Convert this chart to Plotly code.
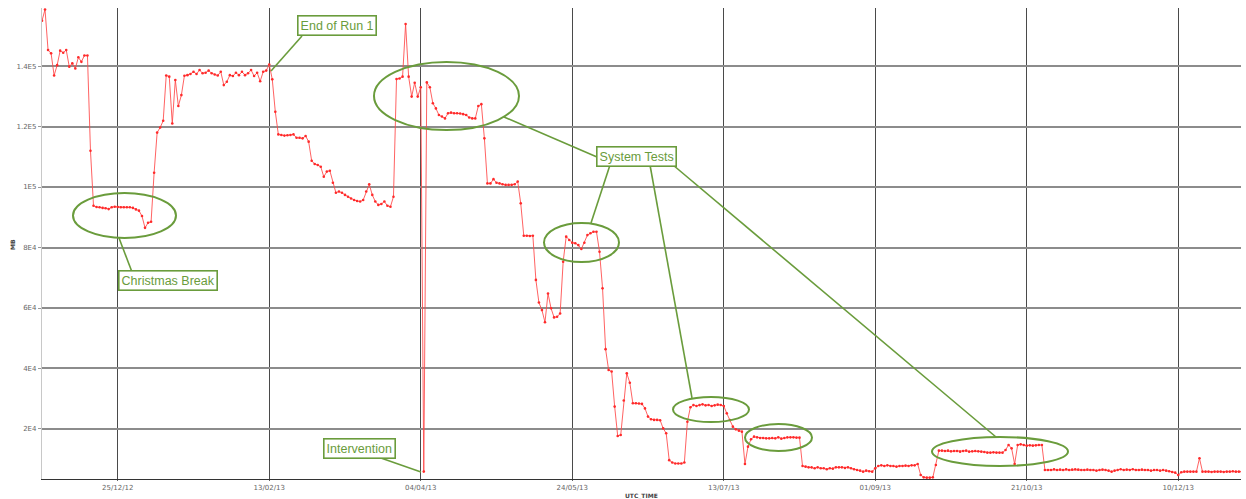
import plotly.graph_objects as go
import pandas as pd

# ---------------- data ----------------
start_date = "2012-11-30"
mb_values = [
    # Nov 30 - Dec 17 2012
    155000, 158700, 145300, 144200, 136900, 140300, 145100, 144400, 145300, 139800,
    140900, 139200, 142900, 141400, 143500, 143500, 112000, 93800,
    # Christmas break
    93400, 93300, 93100, 93000, 92700, 93300, 93500, 93400, 93300, 93300,
    93300, 93300, 93100, 92600, 92200, 90400, 86500, 88200, 88500,
    # January recovery
    104700, 118000, 119700, 121900, 136900, 136500, 121000, 135400, 126800, 130400, 136800,
    137000, 137400, 138100, 137400, 138700, 137600, 137800, 138500, 137600, 137200,
    136900, 138100, 133700, 134800, 137000, 136700, 137800, 137000, 138100, 137000,
    137600, 138700, 136700, 137800, 135000, 138100, 138500, 140500,
    # after End of Run 1
    135600, 124900, 117400, 117200, 117000, 117100, 117200, 117400, 116300, 116300,
    116100, 116900, 115000, 108700, 107600, 107300, 106700, 103400, 105100, 105400,
    101400, 98100, 98500, 98100, 97400, 96800, 96200, 95700, 95400, 95200,
    95700, 98500, 100900, 97400, 95200, 94100, 94400, 95200, 93800, 93500,
    96800, 135700, 135900, 136500, 153900, 136500, 129900, 134500, 129900, 133000,
    5900, 134600, 133000, 127700, 126000, 123800, 123300, 122700, 124400, 124600,
    124400, 124400, 124300, 124100, 123800, 123000, 122700, 122700, 126800, 127400,
    116100, 101200, 101200, 102600, 101400, 101200,
    # May - July
    100900, 100700, 100700, 100700, 100900, 101800, 94600, 83900, 83900, 83800,
    83900, 69300, 61800, 59300, 55300, 64800, 59900, 56900, 57100, 58200,
    75300, 83600, 82500, 81600, 81400, 80800, 79500, 81600, 84100, 84700,
    85200, 85200, 78600, 66500, 46400, 39500, 39000, 27400, 17700, 18000,
    29400, 38400, 35300, 28500, 28500, 28400, 28300, 26800, 24100, 23200,
    23000, 23000, 22900, 20200, 18600, 9700, 8900, 8600, 8600, 8600,
    8900, 22400, 27200, 27900, 27600,
    # July - August
    27900, 28150, 27820, 27930, 27600, 27820, 28040, 27930, 27600, 25170,
    22970, 20770, 19880, 19440, 19110, 8420, 14150, 16580, 17460,
    17240, 17020, 17020, 16900, 16900, 17020, 16900, 17240, 16800, 17020,
    17240, 17240, 17240, 17130, 17130,
    # August - September
    7760, 7540, 7320, 7320, 6990, 7320, 6990, 6990, 6660, 6990,
    6880, 7320, 7320, 7320, 7100, 7320, 6990, 6660, 6440, 6220,
    5890, 6220, 6000, 5890,
    6990, 7760, 7980, 7760, 7980, 7760, 7760, 7540, 7760, 7760,
    7870, 7760, 7980, 7980, 8420, 4790, 4010, 3900, 3900, 4010, 8090,
    # September - October
    12830, 12830, 12720, 12830, 12610, 12720, 12720, 12500, 12720, 12830,
    12500, 12610, 12720, 12610, 12500, 12390, 12170, 12170, 12280, 12170,
    12170, 12170,
    13050, 14700, 13600, 8420, 14700, 14920, 14700, 14480, 14590, 14480,
    14590, 14700, 14700,
    # October - December
    6440, 6440, 6440, 6660, 6440, 6550, 6440, 6660, 6440, 6550,
    6660, 6550, 6440, 6440, 6550, 6440, 6440, 6220, 6440, 6550,
    6440, 6220, 5890, 6220, 6440, 6660, 6440, 6550, 6440, 6660,
    6440, 6440, 6550, 6440, 6440, 6220, 6440, 6440, 6220, 6440,
    6220, 6000, 5780, 5560, 4790, 5670, 5890, 5890, 5890, 5890,
    5890, 10300, 5890, 5890, 5890, 5780, 5890, 5890, 5890, 5780,
    5890, 5890, 6000, 5890, 5890, 5890,
]
dates = pd.date_range(start_date, periods=len(mb_values), freq="D")

y_tick_vals = [20000, 40000, 60000, 80000, 100000, 120000, 140000]
y_tick_text = ["2E4", "4E4", "6E4", "8E4", "1E5", "1.2E5", "1.4E5"]
x_tick_vals = ["2012-12-25", "2013-02-13", "2013-04-04", "2013-05-24",
               "2013-07-13", "2013-09-01", "2013-10-21", "2013-12-10"]
x_tick_text = ["25/12/12", "13/02/13", "04/04/13", "24/05/13",
               "13/07/13", "01/09/13", "21/10/13", "10/12/13"]
x_range = ["2012-11-30 00:00", "2013-12-30 17:00"]
y_range = [3460, 159200]

callout_labels = ["End of Run 1", "Christmas Break", "Intervention", "System Tests"]

# ---------------- figure ----------------
W, H = 1246, 499
PL, PR, PT, PB = 42, 1241, 8, 479
GREEN = "#6a9c3c"


def px(x):
    return (x - PL) / (PR - PL)


def py(y):
    return (PB - y) / (PB - PT)


fig = go.Figure()
fig.add_trace(go.Scatter(
    x=dates, y=mb_values, mode="lines+markers",
    line=dict(color="rgba(255,70,70,0.85)", width=1),
    marker=dict(color="#ff2a2a", size=2.6),
    showlegend=False, cliponaxis=True,
))

fig.update_layout(
    width=W, height=H,
    margin=dict(l=PL, r=W - PR, t=PT, b=H - PB),
    paper_bgcolor="white", plot_bgcolor="white",
    font=dict(family="DejaVu Sans", size=7, color="#555"),
    xaxis=dict(
        range=x_range, tickvals=x_tick_vals, ticktext=x_tick_text,
        showgrid=True, gridcolor="#4a4a4a", gridwidth=1.2,
        showline=True, linecolor="#333", linewidth=1.2,
        ticks="outside", ticklen=1, tickcolor="#666",
        tickfont=dict(size=7, color="#666"), zeroline=False,
    ),
    yaxis=dict(
        range=y_range, tickvals=y_tick_vals, ticktext=y_tick_text,
        showgrid=True, gridcolor="#8c8c8c", gridwidth=1.6,
        showline=True, linecolor="#c8c8c8", linewidth=1.2,
        ticks="outside", ticklen=3, tickcolor="#999",
        tickfont=dict(size=7, color="#666"), zeroline=False,
    ),
)

# axis titles
fig.add_annotation(text="<b>MB</b>", x=px(12), y=py(245), xref="paper", yref="paper",
                   xanchor="center", yanchor="middle",
                   showarrow=False, textangle=-90, font=dict(size=6, color="#444"))
fig.add_annotation(text="<b>UTC_TIME</b>", x=px(641), y=py(496), xref="paper", yref="paper",
                   xanchor="center", yanchor="middle",
                   showarrow=False, font=dict(size=6, color="#444"))

# ellipses
ellipses = [(73, 176, 193, 238), (374, 519, 62, 130), (544, 619, 223, 262),
            (673, 749, 397, 422), (745, 812, 424, 451), (932, 1068, 437, 466)]
for x0, x1, y0, y1 in ellipses:
    fig.add_shape(type="circle", xref="paper", yref="paper",
                  x0=px(x0), x1=px(x1), y0=py(y1), y1=py(y0),
                  line=dict(color=GREEN, width=2))

# connector lines
connectors = [(302, 36, 271, 71), (119, 238, 132, 272), (378, 457, 421, 472),
              (597, 157, 504, 117), (610, 165, 591, 223), (650, 165, 692, 398),
              (673, 165, 996, 437)]
for x0, y0, x1, y1 in connectors:
    fig.add_shape(type="line", xref="paper", yref="paper",
                  x0=px(x0), y0=py(y0), x1=px(x1), y1=py(y1),
                  line=dict(color=GREEN, width=1.6))

# callout boxes
box_centers = [(337, 26), (167.5, 280.5), (359, 448), (636, 156.5)]
for label, (cx, cy) in zip(callout_labels, box_centers):
    fig.add_annotation(text=label, x=px(cx), y=py(cy), xref="paper", yref="paper",
                       xanchor="center", yanchor="middle",
                       showarrow=False, bgcolor="white", bordercolor=GREEN,
                       borderwidth=1.6, borderpad=2,
                       font=dict(family="Liberation Sans", size=12.5, color=GREEN))

fig.write_html("out.html")
